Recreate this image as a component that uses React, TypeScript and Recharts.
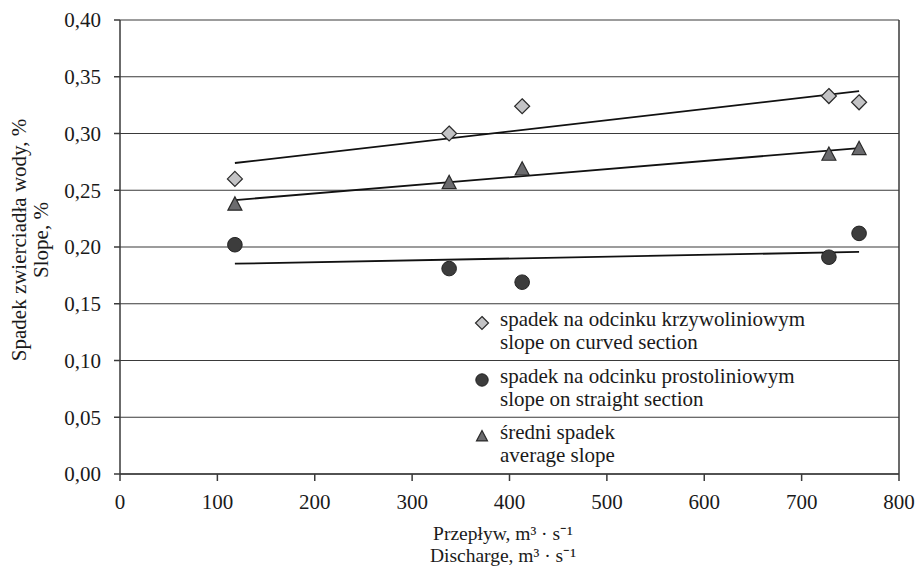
import React from 'react';
import { ScatterChart, Scatter, XAxis, YAxis, CartesianGrid, ReferenceLine, Legend, Label } from 'recharts';

// discharge (m3/s) shared by all three series
const discharge = [118, 338, 413, 728, 759];
const curvedSlope = [0.26, 0.3, 0.324, 0.333, 0.3275];
const straightSlope = [0.202, 0.181, 0.169, 0.191, 0.212];
const averageSlope = [0.238, 0.257, 0.269, 0.282, 0.287];

const xTicks = [0, 100, 200, 300, 400, 500, 600, 700, 800];
const yTicks = [0, 0.05, 0.1, 0.15, 0.2, 0.25, 0.3, 0.35, 0.4];

const legendLines = [
  ['spadek na odcinku krzywoliniowym', 'slope on curved section'],
  ['spadek na odcinku prostoliniowym', 'slope on straight section'],
  ['średni spadek', 'average slope'],
];
const xTitle = ['Przepływ, m³ · s⁻¹', 'Discharge, m³ · s⁻¹'];
const yTitle = ['Spadek zwierciadła wody, %', 'Slope, %'];

const FONT = '"Liberation Serif", "Times New Roman", serif';
const GRID = '#3a3a3a';

const toPoints = (ys: number[]) => discharge.map((x, i) => ({ x, y: ys[i] }));

// least squares trend line between the first and last discharge
function trend(ys: number[]) {
  const n = discharge.length;
  const mx = discharge.reduce((a, b) => a + b, 0) / n;
  const my = ys.reduce((a, b) => a + b, 0) / n;
  let sxy = 0;
  let sxx = 0;
  discharge.forEach((x, i) => {
    sxy += (x - mx) * (ys[i] - my);
    sxx += (x - mx) * (x - mx);
  });
  const k = sxy / sxx;
  const x1 = Math.min(...discharge);
  const x2 = Math.max(...discharge);
  return [
    { x: x1, y: my + k * (x1 - mx) },
    { x: x2, y: my + k * (x2 - mx) },
  ];
}

const Diamond = ({ cx, cy, s = 7.5 }: any) => (
  <polygon
    points={`${cx},${cy - s} ${cx + s},${cy} ${cx},${cy + s} ${cx - s},${cy}`}
    fill="#c3c3c5"
    stroke="#2a2a2a"
    strokeWidth={1.2}
  />
);

const Dot = ({ cx, cy, r = 7.3 }: any) => (
  <circle cx={cx} cy={cy} r={r} fill="#3c3c3c" stroke="#222" strokeWidth={1} />
);

const Tri = ({ cx, cy, s = 7 }: any) => (
  <polygon
    points={`${cx},${cy - s} ${cx + s},${cy + s * 0.9} ${cx - s},${cy + s * 0.9}`}
    fill="#6b6b6e"
    stroke="#2a2a2a"
    strokeWidth={1.2}
  />
);

const markers = [
  (cx: number, cy: number) => <Diamond cx={cx} cy={cy} s={6.5} />,
  (cx: number, cy: number) => <Dot cx={cx} cy={cy} r={6.2} />,
  (cx: number, cy: number) => <Tri cx={cx} cy={cy} s={5.5} />,
];

const LegendBox = () => (
  <div style={{ position: 'relative', width: 430, height: 170, fontFamily: FONT, fontSize: 21, color: '#1a1a1a' }}>
    {legendLines.map((lines, i) => (
      <div key={i} style={{ position: 'absolute', left: 0, top: i * 56.5 }}>
        <svg width={20} height={20} style={{ position: 'absolute', left: 0, top: 5 }}>
          {markers[i](10, 10)}
        </svg>
        <div style={{ position: 'absolute', left: 28, top: 0, lineHeight: '23.3px', whiteSpace: 'nowrap' }}>
          <div>{lines[0]}</div>
          <div>{lines[1]}</div>
        </div>
      </div>
    ))}
  </div>
);

const XTitle = () => (
  <g fontFamily={FONT} fontSize={19.5} fill="#1a1a1a" textAnchor="middle">
    <text x={503} y={540}>{xTitle[0]}</text>
    <text x={503} y={562}>{xTitle[1]}</text>
  </g>
);

const YTitle = () => (
  <g fontFamily={FONT} fontSize={21} fill="#1a1a1a" textAnchor="middle">
    <text x={26} y={240} transform="rotate(-90 26 240)">{yTitle[0]}</text>
    <text x={48} y={240} transform="rotate(-90 48 240)">{yTitle[1]}</text>
  </g>
);

export default function App() {
  const fmt = (v: number) => v.toFixed(2).replace('.', ',');
  return (
    <div style={{ position: 'absolute', left: 0, top: 0, background: '#fff' }}>
      <ScatterChart width={915} height={572} margin={{ top: 20, right: 16, bottom: 38, left: 0 }}>
        <CartesianGrid vertical={false} stroke={GRID} strokeWidth={1.2} />
        <XAxis
          type="number"
          dataKey="x"
          domain={[0, 800]}
          ticks={xTicks}
          height={60}
          stroke={GRID}
          strokeWidth={1.5}
          tickSize={7}
          tickMargin={13}
          tick={{ fontFamily: FONT, fontSize: 21, fill: '#1a1a1a' }}
        >
          <Label content={<XTitle />} />
        </XAxis>
        <YAxis
          type="number"
          dataKey="y"
          domain={[0, 0.4]}
          ticks={yTicks}
          width={120}
          stroke={GRID}
          strokeWidth={1.5}
          tickSize={6}
          tickMargin={13}
          tickFormatter={fmt}
          tick={{ fontFamily: FONT, fontSize: 21, fill: '#1a1a1a' }}
        >
          <Label content={<YTitle />} />
        </YAxis>
        <ReferenceLine x={800} stroke={GRID} strokeWidth={1.5} />
        <ReferenceLine segment={trend(curvedSlope)} stroke="#111" strokeWidth={1.8} />
        <ReferenceLine segment={trend(averageSlope)} stroke="#111" strokeWidth={1.8} />
        <ReferenceLine segment={trend(straightSlope)} stroke="#111" strokeWidth={1.8} />
        <Scatter name="curved" data={toPoints(curvedSlope)} shape={<Diamond />} isAnimationActive={false} />
        <Scatter name="straight" data={toPoints(straightSlope)} shape={<Dot />} isAnimationActive={false} />
        <Scatter name="average" data={toPoints(averageSlope)} shape={<Tri />} isAnimationActive={false} />
        <Legend
          layout="vertical"
          align="center"
          verticalAlign="middle"
          content={<LegendBox />}
          wrapperStyle={{ position: 'absolute', left: 472, top: 308, width: 430, height: 170 }}
        />
      </ScatterChart>
    </div>
  );
}
